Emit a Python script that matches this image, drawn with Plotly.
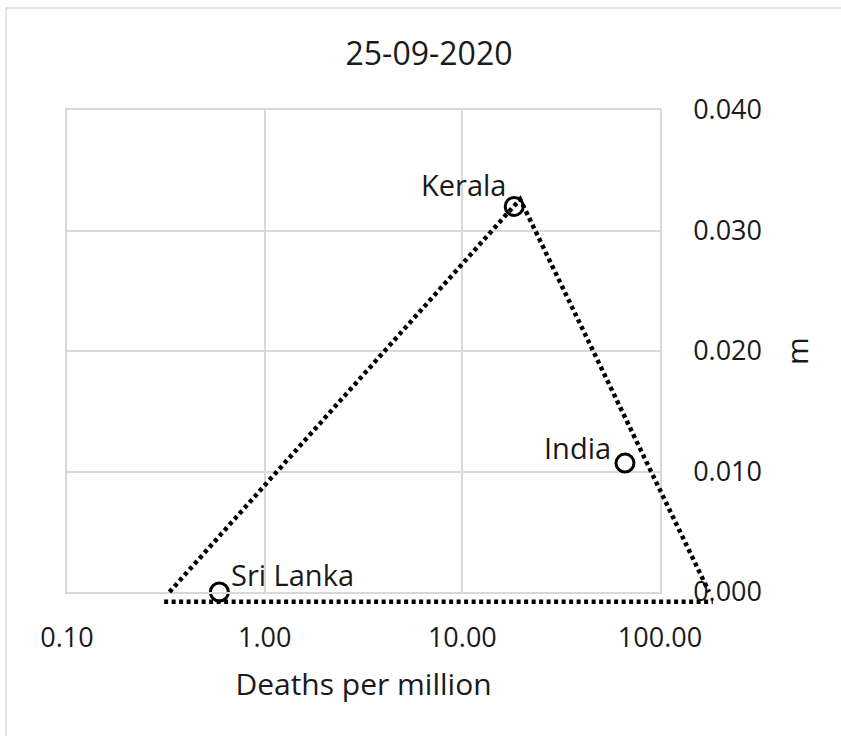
import numpy as np
import plotly.graph_objects as go

# Points: deaths per million (log x) against m
countries = ["Kerala", "India", "Sri Lanka"]
deaths_per_million = [18.3, 66.5, 0.59]
m_values = [0.0320, 0.0107, 0.0]

# Dotted envelope: two sides of the triangle, plus its base
envelope_x = [0.33, 19.6, 177.0]
envelope_m = [0.0, 0.0326, 0.0]
base_x = [0.31, 185.0]
base_m = [-0.0008, -0.0008]

x_tick_vals = [0.1, 1, 10, 100]
x_tick_text = ["0.10", "1.00", "10.00", "100.00"]
y_tick_vals = [0.0, 0.01, 0.02, 0.03, 0.04]
y_tick_text = ["0.000", "0.010", "0.020", "0.030", "0.040"]

# Label offsets (pixels) relative to each point
label_anchor = {"Kerala": ("right", -6, 22), "India": ("right", -12, 16), "Sri Lanka": ("left", 10, 18)}

FONT = "Open Sans"
W, H = 841, 736
left, grid_right, full_right = 67, 660, 720
top, grid_bottom, full_bottom = 110, 592, 612
pw = full_right - left
ph = full_bottom - top

x_dom_end = (grid_right - left) / pw
y_dom_start = (full_bottom - grid_bottom) / ph
x_decades = 3.0
x2_range = [-1, -1 + x_decades * pw / (grid_right - left)]
y2_range = [-0.04 * (full_bottom - grid_bottom) / (grid_bottom - top), 0.04]

fig = go.Figure()

dot_line = dict(color="black", width=4.5, dash="4px,3.5px")
fig.add_trace(go.Scatter(x=envelope_x, y=envelope_m, mode="lines", line=dot_line,
                         xaxis="x2", yaxis="y2", showlegend=False, hoverinfo="skip"))
fig.add_trace(go.Scatter(x=base_x, y=base_m, mode="lines", line=dot_line,
                         xaxis="x2", yaxis="y2", showlegend=False, hoverinfo="skip"))

fig.add_trace(go.Scatter(
    x=deaths_per_million, y=m_values, mode="markers", cliponaxis=False,
    marker=dict(symbol="circle-open", size=18, color="black", line=dict(width=3, color="black")),
    showlegend=False, text=countries,
))

annotations = []
for name, xv, yv in zip(countries, deaths_per_million, m_values):
    anchor, dx, dy = label_anchor[name]
    annotations.append(dict(
        x=np.log10(xv), y=yv, xref="x", yref="y", text=name, showarrow=False,
        xanchor=anchor, yanchor="middle", xshift=dx, yshift=dy,
        font=dict(family=FONT, size=29, color="#1a1a1a"),
    ))

grid_col = "#d9d9d9"
fig.update_layout(
    width=W, height=H,
    margin=dict(l=left, r=W - full_right, t=top, b=H - full_bottom),
    paper_bgcolor="white", plot_bgcolor="rgba(0,0,0,0)",
    font=dict(family=FONT, color="#262626"),
    title=dict(text="25-09-2020", x=429 / W, xref="container", xanchor="center",
               y=1 - 54 / H, yref="container", yanchor="middle",
               font=dict(family=FONT, size=32, color="#1a1a1a")),
    xaxis=dict(type="log", range=[-1, 2], domain=[0, x_dom_end], anchor="y",
               tickvals=x_tick_vals, ticktext=x_tick_text,
               showgrid=True, gridcolor=grid_col, gridwidth=1.5,
               showline=True, mirror=True, linecolor=grid_col, linewidth=1.5,
               ticks="outside", ticklen=21, tickcolor="rgba(0,0,0,0)",
               tickfont=dict(family=FONT, size=27, color="#1a1a1a"),
               title=dict(text="Deaths per million", standoff=20,
                          font=dict(family=FONT, size=30, color="#1a1a1a")),
               zeroline=False),
    yaxis=dict(range=[0, 0.04], domain=[y_dom_start, 1], anchor="x", side="right",
               tickvals=y_tick_vals, ticktext=y_tick_text,
               showgrid=True, gridcolor=grid_col, gridwidth=1.5,
               showline=True, mirror=True, linecolor=grid_col, linewidth=1.5,
               ticks="outside", ticklen=26, tickcolor="rgba(0,0,0,0)",
               tickfont=dict(family=FONT, size=27, color="#1a1a1a"),
               title=dict(text="m", standoff=26,
                          font=dict(family=FONT, size=30, color="#1a1a1a")),
               zeroline=False),
    xaxis2=dict(type="log", range=x2_range, domain=[0, 1], anchor="y2", visible=False),
    yaxis2=dict(range=y2_range, domain=[0, 1], anchor="x2", visible=False),
    annotations=annotations,
    shapes=[dict(type="rect", xref="paper", yref="paper",
                 x0=(6 - left) / pw, x1=(W + 20 - left) / pw,
                 y0=(full_bottom - (H + 20)) / ph, y1=(full_bottom - 8) / ph,
                 line=dict(color=grid_col, width=1.5), layer="below")],
)

fig.write_html("out.html")
